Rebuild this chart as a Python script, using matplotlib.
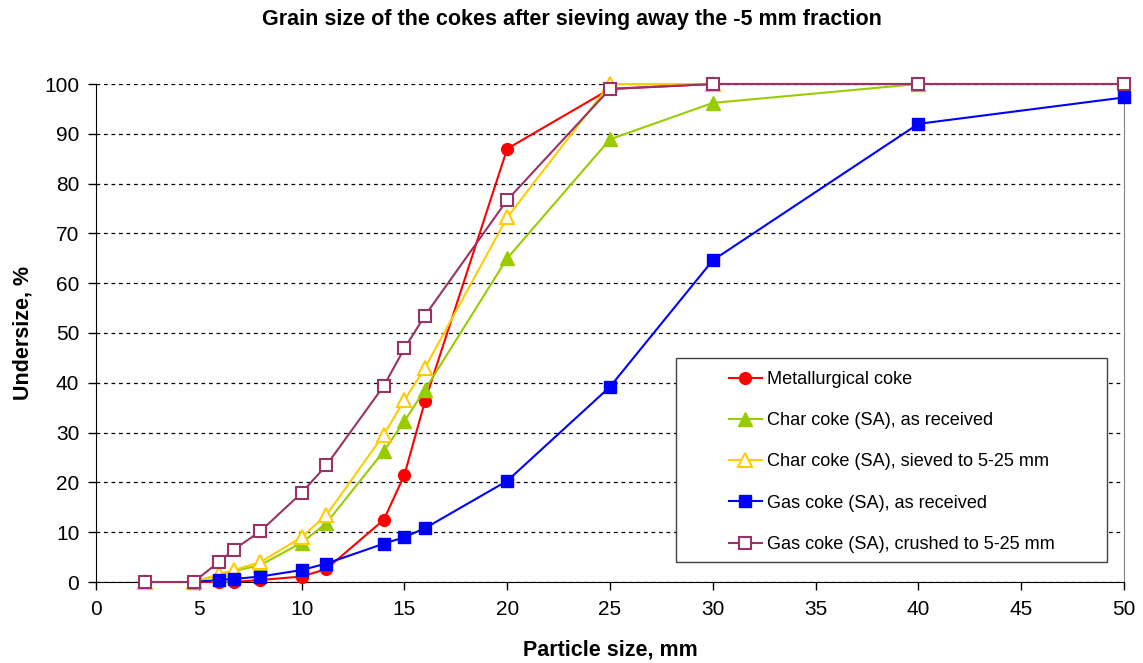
import matplotlib
matplotlib.use("Agg")
import matplotlib.pyplot as plt
from matplotlib.patches import Rectangle

plt.rcParams['font.family'] = ['Liberation Sans', 'DejaVu Sans']

title = "Grain size of the cokes after sieving away the -5 mm fraction"
xlabel = "Particle size, mm"
ylabel = "Undersize, %"

met_x = [4.75, 6, 6.7, 8, 10, 11.2, 14, 15, 16, 20, 25, 30, 40, 50]
met_y = [0, 0, 0, 0.4, 1.1, 2.6, 12.5, 21.5, 36.3, 87.0, 99.0, 100, 100, 100]

char_x = [4.75, 6, 6.7, 8, 10, 11.2, 14, 15, 16, 20, 25, 30, 40]
char_y = [0, 1.4, 2.2, 3.4, 7.9, 11.8, 26.3, 32.3, 38.6, 65.0, 88.9, 96.2, 100]

sieved_x = [2.36, 4.75, 6, 6.7, 8, 10, 11.2, 14, 15, 16, 20, 25, 30]
sieved_y = [0, 0, 1.6, 2.4, 4.0, 9.0, 13.4, 29.6, 36.5, 43.0, 73.2, 100, 100]

gas_x = [4.75, 6, 6.7, 8, 10, 11.2, 14, 15, 16, 20, 25, 30, 40, 50]
gas_y = [0, 0.4, 0.6, 1.1, 2.4, 3.7, 7.7, 9.0, 10.8, 20.3, 39.2, 64.6, 92.0, 97.3]

crushed_x = [2.36, 4.75, 6, 6.7, 8, 10, 11.2, 14, 15, 16, 20, 25, 30, 40, 50]
crushed_y = [0, 0, 4.1, 6.5, 10.2, 17.9, 23.4, 39.4, 46.9, 53.5, 76.7, 99.0, 100, 100, 100]

labels = ["Metallurgical coke", "Char coke (SA), as received",
          "Char coke (SA), sieved to 5-25 mm", "Gas coke (SA), as received",
          "Gas coke (SA), crushed to 5-25 mm"]

W, H = 1143, 663
fig = plt.figure(figsize=(W/100, H/100), dpi=100)
ax = fig.add_axes([96/W, 1-582/H, (1124-96)/W, (582-84)/H])

common = dict(lw=1.5, clip_on=False)
ax.plot(met_x, met_y, color='#FF0000', marker='o', ms=8.5,
        mfc='#FF0000', mec='#FF0000', label=labels[0], zorder=3, **common)
ax.plot(char_x, char_y, color='#99CC00', marker='^', ms=9.5,
        mfc='#99CC00', mec='#99CC00', label=labels[1], zorder=4, **common)
ax.plot(sieved_x, sieved_y, color='#FFCC00', marker='^', ms=9.5,
        mfc='white', mec='#FFCC00', mew=1.5, label=labels[2], zorder=5, **common)
ax.plot(gas_x, gas_y, color='#0000FF', marker='s', ms=8.5,
        mfc='#0000FF', mec='#0000FF', label=labels[3], zorder=6, **common)
ax.plot(crushed_x, crushed_y, color='#993366', marker='s', ms=9,
        mfc='white', mec='#993366', mew=1.5, label=labels[4], zorder=7, **common)

ax.set_xlim(0, 50)
ax.set_ylim(0, 100)
ax.set_xticks(range(0, 51, 5))
ax.set_yticks(range(0, 101, 10))
ax.yaxis.grid(True, linestyle=(0, (3, 3)), color='black', lw=0.9)
ax.set_axisbelow(True)
ax.spines['top'].set_visible(False)
ax.spines['right'].set_color('#808080')
ax.spines['left'].set_color('black')
ax.spines['bottom'].set_color('black')
ax.tick_params(axis='both', direction='out', length=6, width=1, labelsize=15, pad=6)
ax.tick_params(axis='x', pad=7)

ax.set_xlabel(xlabel, fontsize=15.5, fontweight='bold', labelpad=15)
ax.set_ylabel(ylabel, fontsize=15.5, fontweight='bold', labelpad=8)
fig.text(0.5, 1-20/H, title, fontsize=15.5, fontweight='bold', ha='center', va='center')

# legend box (Excel style)
bx0, bx1 = (676-96)/1028, (1107-96)/1028
by0, by1 = (582-562)/498, (582-358)/498
rect = Rectangle((bx0, by0), bx1-bx0, by1-by0, transform=ax.transAxes,
                 facecolor='white', edgecolor='#404040', lw=1.0, zorder=9, clip_on=False)
ax.add_patch(rect)
leg = ax.legend(loc='upper left', bbox_to_anchor=((720-96)/1028, (582-362)/498),
                fontsize=13.1, frameon=False, labelspacing=1.33, handlelength=1.8,
                borderpad=0.5, borderaxespad=0, handletextpad=0.3)
leg.set_zorder(10)

fig.savefig("out.png", dpi=100)
